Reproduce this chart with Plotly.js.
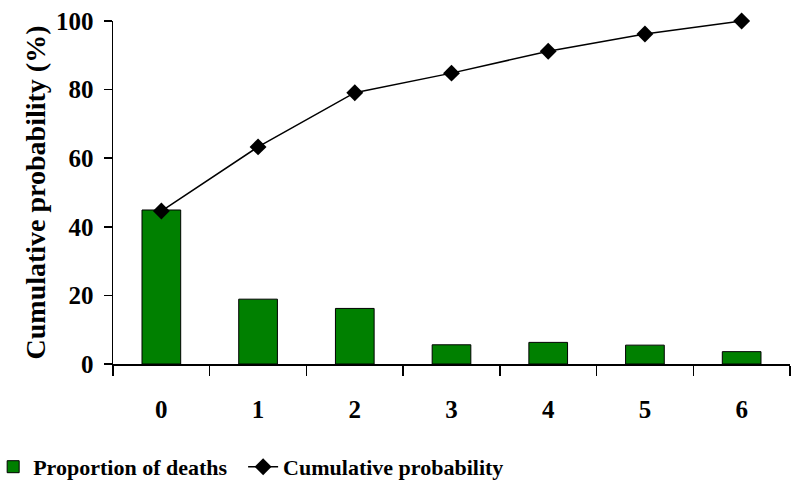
<!DOCTYPE html>
<html>
<head>
<meta charset="utf-8">
<script src="https://cdn.plot.ly/plotly-3.0.1.min.js"></script>
<style>html,body{margin:0;padding:0;background:#fff;}#chart{width:800px;height:495px;}</style>
</head>
<body>
<div id="chart"></div>
<script>
var categories = ["0", "1", "2", "3", "4", "5", "6"];
var proportionOfDeaths = [44.9, 18.9, 16.2, 5.6, 6.3, 5.5, 3.6];
var cumulativeProbability = [44.6, 63.3, 79.1, 84.8, 91.2, 96.2, 100];
var yTicks = [0, 20, 40, 60, 80, 100];
var seriesNames = ["Proportion of deaths", "Cumulative probability"];

var fontFam = "Liberation Serif, Times New Roman, serif";
var pad = "\u00A0\u00A0";

var traces = [
  {
    type: "bar",
    name: "<b>" + seriesNames[0] + "</b>" + pad,
    x: categories,
    y: proportionOfDeaths,
    width: 0.4,
    marker: {color: "#008000", line: {color: "#000", width: 1}}
  },
  {
    type: "scatter",
    mode: "lines+markers",
    name: "<b>" + seriesNames[1] + "</b>",
    x: categories,
    y: cumulativeProbability,
    line: {color: "#000", width: 1.5},
    marker: {symbol: "diamond", size: 13, color: "#000"},
    cliponaxis: false
  }
];

var layout = {
  width: 800,
  height: 495,
  margin: {l: 113, r: 10, t: 21, b: 131, autoexpand: false},
  paper_bgcolor: "#fff",
  plot_bgcolor: "#fff",
  font: {family: fontFam, color: "#000", size: 22},
  showlegend: true,
  legend: {
    orientation: "h",
    xref: "paper", yref: "paper",
    x: -0.177, y: -0.30, xanchor: "left", yanchor: "middle",
    font: {family: fontFam, size: 22, color: "#000"},
    itemwidth: 30,
    tracegroupgap: 0
  },
  xaxis: {
    type: "category",
    range: [-0.5, 6.5],
    showline: true, linecolor: "#000", linewidth: 1.5,
    ticks: "outside", tickson: "boundaries", ticklen: 10, tickcolor: "#000", tickwidth: 1.5,
    ticklabelstandoff: 22,
    tickfont: {family: fontFam, size: 25, color: "#000", weight: "bold"},
    showgrid: false, zeroline: false,
    fixedrange: true
  },
  yaxis: {
    range: [0, 100],
    tickvals: yTicks,
    ticktext: yTicks.map(String),
    showline: true, linecolor: "#000", linewidth: 1.5,
    ticks: "outside", ticklen: 8, tickcolor: "#000", tickwidth: 1.5,
    ticklabelstandoff: 5,
    tickfont: {family: fontFam, size: 25, color: "#000", weight: "bold"},
    showgrid: false, zeroline: false,
    title: {text: "<b>Cumulative probability (%)</b>", font: {family: fontFam, size: 28, color: "#000"}, standoff: 2},
    fixedrange: true
  },
  bargap: 0.6
};

Plotly.newPlot("chart", traces, layout, {displayModeBar: false, staticPlot: true});
</script>
</body>
</html>
